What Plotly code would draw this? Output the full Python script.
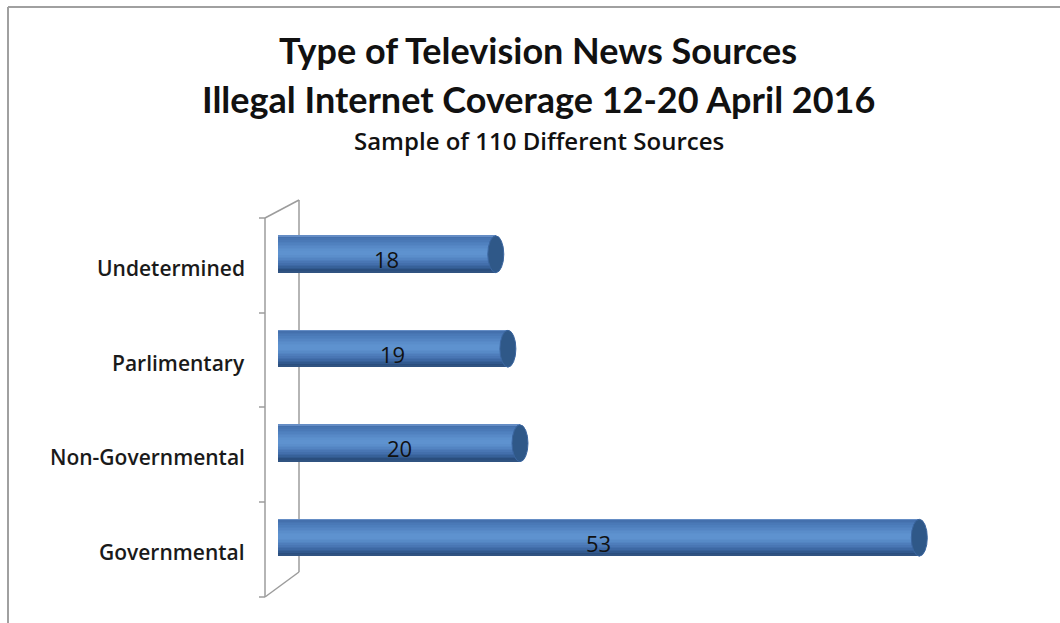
import plotly.graph_objects as go

# Data
categories = ["Governmental", "Non-Governmental", "Parlimentary", "Undetermined"]
counts = [53, 20, 19, 18]

W, H = 1060, 623
ML, MR, MT, MB = 278, 56, 207, 38
PW, PH = W - ML - MR, H - MT - MB
X_MAX = 60


def px(x):
    return (x - ML) / PW


def py(y):
    return (H - MB - y) / PH


TITLE_FONT = "Lato, 'Open Sans', sans-serif"
TEXT_FONT = "'Open Sans', Lato, sans-serif"
BAR_W = 0.39

# Vertical colour profile of a cylinder, top edge (0) to bottom edge (1)
profile = [
    (0.00, (0x76, 0x9d, 0xd2)),
    (0.06, (0x44, 0x70, 0xad)),
    (0.16, (0x4b, 0x7b, 0xb9)),
    (0.30, (0x56, 0x88, 0xc6)),
    (0.42, (0x5e, 0x92, 0xcf)),
    (0.52, (0x5e, 0x92, 0xcf)),
    (0.62, (0x56, 0x88, 0xc6)),
    (0.72, (0x4a, 0x78, 0xb6)),
    (0.82, (0x3c, 0x67, 0xa2)),
    (0.90, (0x30, 0x58, 0x8d)),
    (0.96, (0x26, 0x48, 0x75)),
    (1.00, (0x3a, 0x5e, 0x8e)),
]


def shade(t):
    for (t0, c0), (t1, c1) in zip(profile, profile[1:]):
        if t0 <= t <= t1:
            f = (t - t0) / (t1 - t0) if t1 > t0 else 0
            r, g, b = (round(a + (b_ - a) * f) for a, b_ in zip(c0, c1))
            return f"rgb({r},{g},{b})"
    return "rgb(58,94,142)"


fig = go.Figure()

N_STRIPS = 24
strip = BAR_W / N_STRIPS
ypos = list(range(len(categories)))
for k in range(N_STRIPS):
    t = (k + 0.5) / N_STRIPS
    fig.add_trace(go.Bar(
        x=counts, y=ypos, orientation="h", width=strip * 1.3,
        base=0, offset=BAR_W / 2 - (k + 1) * strip,
        marker=dict(color=shade(t), line=dict(width=0)),
        hoverinfo="skip", showlegend=False,
    ))

shapes = []
cap_half = 0.66
for i, v in enumerate(counts):
    # end cap of the cylinder
    shapes.append(dict(
        type="circle", xref="x", yref="y",
        x0=v - cap_half, x1=v + cap_half,
        y0=i - BAR_W / 2, y1=i + BAR_W / 2,
        fillcolor="#2f5888", line=dict(color="#3b66a0", width=1), layer="above",
    ))
    # rounded start of the cylinder
    shapes.append(dict(
        type="circle", xref="x", yref="y",
        x0=-cap_half * 0.55, x1=cap_half * 0.55,
        y0=i - BAR_W / 2 + 0.01, y1=i + BAR_W / 2 - 0.01,
        fillcolor="#4677b5", line=dict(width=0), layer="below",
    ))

# 3-D wall frame
gray = "#9c9c9c"
frame = [
    ((299, 200), (299, 572)),
    ((265, 218), (265, 597)),
    ((265, 218), (299, 200)),
    ((265, 597), (299, 572)),
]
for (x0, y0), (x1, y1) in frame:
    shapes.append(dict(type="line", xref="paper", yref="paper",
                       x0=px(x0), y0=py(y0), x1=px(x1), y1=py(y1),
                       line=dict(color=gray, width=1.5), layer="below"))
for ty in [218, 313, 407, 502, 597]:
    shapes.append(dict(type="line", xref="paper", yref="paper",
                       x0=px(259), y0=py(ty), x1=px(265), y1=py(ty),
                       line=dict(color=gray, width=1.5), layer="below"))

# Outer chart border (top and left)
shapes.append(dict(type="line", xref="paper", yref="paper",
                   x0=px(8), y0=py(7), x1=px(1062), y1=py(7),
                   line=dict(color="#a0a0a0", width=2)))
shapes.append(dict(type="line", xref="paper", yref="paper",
                   x0=px(8), y0=py(7), x1=px(8), y1=py(630),
                   line=dict(color="#a0a0a0", width=2)))

annotations = [
    dict(text="<b>Type of Television News Sources</b>", xref="paper", yref="paper",
         x=px(538), y=py(50), xanchor="center", yanchor="middle", showarrow=False,
         font=dict(family=TITLE_FONT, size=36, color="#111111")),
    dict(text="<b>Illegal Internet Coverage 12-20 April 2016</b>", xref="paper", yref="paper",
         x=px(538), y=py(99), xanchor="center", yanchor="middle", showarrow=False,
         font=dict(family=TITLE_FONT, size=36, color="#111111")),
    dict(text="Sample of 110 Different Sources", xref="paper", yref="paper",
         x=px(539), y=py(140), xanchor="center", yanchor="middle", showarrow=False,
         font=dict(family=TEXT_FONT, size=24, color="#111111", weight=600)),
]
for i, c in enumerate(categories):
    annotations.append(dict(
        text=c, xref="paper", yref="y", x=px(247), y=i, yshift=-14,
        xanchor="right", yanchor="middle", showarrow=False,
        font=dict(family=TEXT_FONT, size=21, color="#1a1a1a", weight=600),
    ))
for i, v in enumerate(counts):
    annotations.append(dict(
        text=str(v), xref="x", yref="y", x=v / 2, y=i, yshift=-5,
        xanchor="center", yanchor="middle", showarrow=False,
        font=dict(family=TEXT_FONT, size=22, color="#111111"),
    ))

fig.update_layout(
    width=W, height=H,
    margin=dict(l=ML, r=MR, t=MT, b=MB, pad=0),
    paper_bgcolor="white", plot_bgcolor="rgba(0,0,0,0)",
    barmode="overlay", bargap=0,
    showlegend=False,
    xaxis=dict(range=[0, X_MAX], visible=False, fixedrange=True),
    yaxis=dict(range=[-0.5, len(categories) - 0.5], visible=False, fixedrange=True),
    shapes=shapes, annotations=annotations,
)

fig.write_html("out.html")
